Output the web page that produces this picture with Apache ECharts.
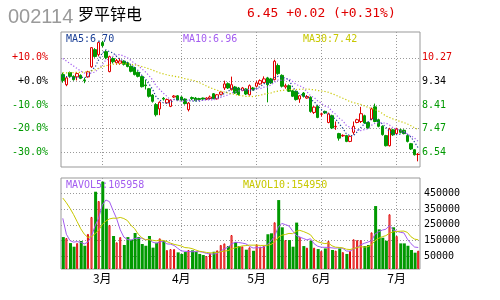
<!DOCTYPE html>
<html><head><meta charset="utf-8">
<script src="https://cdn.jsdelivr.net/npm/echarts@6/dist/echarts.min.js"></script>
<style>html,body{margin:0;padding:0;background:#fff}#c{width:500px;height:300px}</style>
</head><body><div id="c"></div><script>
const stockCode = '002114';
const stockName = '罗平锌电';
const monthNames = ['2月','3月','4月','5月','6月','7月'];
const monthDays = [11,22,21,18,21,7];
const opens = [9.61,9.21,9.69,9.54,9.52,9.58,9.40,9.52,9.92,10.60,
 10.40,10.88,10.52,9.73,10.25,10.08,10.06,10.14,10.08,9.94,
 9.89,9.70,9.53,9.20,9.05,8.80,8.42,8.25,8.67,8.49,
 8.35,8.72,8.77,8.72,8.64,8.22,8.70,8.68,8.66,8.68,
 8.63,8.66,8.85,8.65,8.83,9.08,9.25,9.01,9.12,9.08,
 8.98,9.04,8.81,9.08,9.15,9.24,9.30,9.48,9.44,9.41,
 9.97,9.58,9.12,9.17,8.97,8.95,8.64,8.88,8.68,8.71,
 8.11,8.35,8.04,8.15,7.71,7.98,7.54,7.27,7.18,7.19,
 6.96,7.32,7.71,7.75,7.98,7.71,7.85,8.33,7.82,7.56,
 7.19,6.79,7.42,7.27,7.42,7.40,7.19,6.87,6.63,6.44];
const closes = [9.38,9.48,9.54,9.41,9.65,9.46,9.37,9.72,10.68,10.33,
 10.88,10.76,10.29,10.32,10.12,10.17,10.15,10.02,9.93,9.74,
 9.61,9.54,9.13,9.17,8.75,8.55,8.02,8.51,8.64,8.62,
 8.60,8.76,8.60,8.60,8.46,8.48,8.66,8.58,8.62,8.64,
 8.68,8.72,8.66,8.81,8.92,9.24,9.08,9.21,8.88,8.82,
 9.08,8.84,9.17,9.01,9.28,9.37,9.44,9.21,9.28,10.14,
 9.65,9.15,9.17,8.95,8.75,8.62,8.77,8.75,8.74,8.15,
 8.32,7.91,8.05,8.09,8.05,7.49,7.56,7.09,7.20,6.96,
 7.16,7.56,7.82,8.06,7.69,7.49,8.25,7.75,7.56,7.23,
 6.79,7.45,7.22,7.45,7.32,7.27,6.96,6.66,6.43,6.45];
const lows = [9.29,9.15,9.50,9.37,9.38,9.43,9.27,9.49,9.88,10.28,
 10.33,10.70,10.22,9.70,10.05,10.00,10.00,9.97,9.90,9.70,
 9.58,9.50,9.10,9.02,8.70,8.50,7.95,8.00,8.58,8.45,
 8.32,8.68,8.56,8.57,8.42,8.15,8.60,8.55,8.58,8.60,
 8.60,8.62,8.63,8.62,8.80,9.00,9.04,8.98,8.85,8.78,
 8.95,8.80,8.78,8.98,9.10,9.20,9.27,8.51,9.24,9.38,
 9.60,9.10,9.05,8.92,8.72,8.58,8.49,8.70,8.65,8.10,
 8.05,7.88,7.95,8.05,7.68,7.45,7.42,6.99,7.14,6.93,
 6.93,7.23,7.68,7.69,7.66,7.46,7.80,7.72,7.52,7.19,
 6.76,6.76,7.18,7.22,7.28,7.24,6.92,6.62,6.40,6.17];
const highs = [9.69,9.53,9.73,9.58,9.71,9.62,9.49,9.76,10.70,10.66,
 10.92,10.95,10.58,10.36,10.30,10.23,10.26,10.18,10.12,9.98,
 9.92,9.74,9.56,9.40,9.08,8.84,8.48,8.55,8.72,8.66,
 8.63,8.80,8.80,8.75,8.67,8.52,8.74,8.72,8.69,8.70,
 8.71,8.78,8.88,8.84,8.95,9.37,9.30,9.53,9.16,9.12,
 9.12,9.07,9.22,9.12,9.35,9.42,9.54,9.52,9.48,10.20,
 10.05,9.62,9.25,9.22,9.00,8.98,8.80,8.92,8.80,8.75,
 8.36,8.40,8.10,8.18,8.10,8.02,7.75,7.30,7.24,7.22,
 7.20,7.75,7.86,8.33,8.02,7.74,8.30,8.46,7.86,7.60,
 7.22,7.50,7.46,7.50,7.46,7.44,7.22,6.90,6.66,6.50];
const volumes = [172000,166000,134000,111000,134000,147000,117000,192000,300000,460000,
 401000,524000,352000,249000,179000,139000,172000,122000,172000,155000,
 198000,172000,128000,117000,179000,105000,136000,164000,149000,90000,
 96000,96000,75000,65000,77000,90000,88000,79000,65000,58000,
 52000,69000,79000,88000,122000,132000,115000,185000,141000,115000,
 113000,92000,107000,85000,126000,111000,117000,190000,196000,266000,
 407000,234000,153000,153000,111000,264000,175000,115000,105000,149000,
 105000,96000,84000,100000,147000,90000,86000,100000,77000,65000,
 84000,158000,153000,153000,115000,122000,202000,369000,221000,168000,
 149000,317000,234000,179000,132000,132000,117000,90000,73000,86000];
const ma5 = [9.55,9.53,9.51,9.48,9.49,9.51,9.49,9.52,9.78,9.91,
 10.20,10.47,10.59,10.52,10.47,10.33,10.21,10.16,10.08,10.00,
 9.89,9.77,9.59,9.44,9.24,9.03,8.72,8.60,8.49,8.47,
 8.48,8.63,8.64,8.64,8.60,8.58,8.56,8.56,8.56,8.60,
 8.64,8.65,8.66,8.70,8.76,8.87,8.94,9.05,9.07,9.05,
 9.01,8.97,8.96,8.98,9.08,9.13,9.25,9.26,9.32,9.49,
 9.54,9.49,9.48,9.41,9.13,8.93,8.85,8.77,8.73,8.61,
 8.55,8.37,8.23,8.10,8.08,7.92,7.85,7.66,7.48,7.26,
 7.19,7.19,7.34,7.51,7.66,7.72,7.86,7.85,7.75,7.66,
 7.52,7.36,7.25,7.23,7.25,7.34,7.24,7.13,6.93,6.70];
const ma10 = [10.25,10.15,10.05,9.95,9.85,9.75,9.68,9.64,9.68,9.71,
 9.85,10.00,10.19,10.22,10.34,10.40,10.40,10.34,10.28,10.17,
 10.05,9.97,9.84,9.72,9.57,9.40,9.16,9.02,8.87,8.75,
 8.60,8.62,8.57,8.56,8.54,8.61,8.60,8.60,8.58,8.59,
 8.60,8.61,8.61,8.65,8.70,8.76,8.80,8.88,8.92,8.96,
 8.98,9.01,9.02,9.02,9.05,9.05,9.11,9.12,9.20,9.31,
 9.40,9.38,9.40,9.45,9.34,9.21,9.17,9.09,8.93,8.77,
 8.70,8.57,8.48,8.36,8.32,8.15,8.04,7.88,7.78,7.59,
 7.52,7.43,7.41,7.39,7.43,7.46,7.60,7.68,7.71,7.69,
 7.69,7.61,7.50,7.45,7.39,7.35,7.25,7.18,7.09,6.96];
const ma30 = [9.68,9.68,9.69,9.69,9.70,9.70,9.71,9.72,9.76,9.80,
 9.86,9.92,9.96,10.00,10.02,10.04,10.05,10.05,10.04,10.02,
 10.00,9.97,9.93,9.89,9.84,9.79,9.73,9.68,9.64,9.60,
 9.57,9.55,9.52,9.49,9.45,9.42,9.39,9.36,9.29,9.23,
 9.16,9.09,9.04,8.99,8.95,8.92,8.88,8.85,8.82,8.79,
 8.77,8.75,8.75,8.74,8.76,8.79,8.83,8.86,8.88,8.93,
 8.96,8.98,9.00,9.01,9.02,9.02,9.03,9.03,9.04,9.02,
 9.01,8.98,8.96,8.94,8.91,8.85,8.80,8.73,8.67,8.61,
 8.54,8.50,8.46,8.43,8.37,8.31,8.27,8.22,8.16,8.07,
 7.97,7.91,7.85,7.80,7.75,7.71,7.65,7.58,7.50,7.42];
const mavol5 = [291000,190000,150000,140000,143400,138400,128600,140200,178000,243200,
 294000,375400,407400,397200,341000,288600,218200,172200,156800,152000,
 163800,163800,165000,154000,158800,140200,133000,140200,146600,128800,
 127000,119000,101200,84400,81800,80600,79000,79800,79800,76000,
 68400,64600,64600,69200,82000,98000,107200,128400,139000,137600,
 133800,129200,113600,102400,104600,104200,109200,125800,148000,176000,
 235200,258600,251200,242600,211600,183000,171200,163600,154000,161600,
 129800,114000,107800,106800,106400,103400,101400,104600,100000,83600,
 82400,96800,107400,122600,132600,140200,149000,192200,205800,216400,
 221800,244800,217800,209400,202200,198800,158800,130000,108800,105958];
const mavol10 = [420000,390000,355000,315000,270000,225000,190000,170000,175000,193300,
 216200,252000,273800,287600,292100,291300,296800,289800,277000,246500,
 226200,191000,168600,155400,155400,152000,148400,152600,150300,143800,
 133600,126000,120700,115500,105300,103800,99000,90500,82100,78900,
 74500,71800,72200,74500,79000,83200,85900,96500,104100,109800,
 115900,118200,121000,120700,121100,119000,119200,119700,125200,140300,
 169700,183900,188500,195300,193800,209100,214900,207400,198300,186600,
 156400,142600,135700,130400,134000,116600,107700,106200,103400,95000,
 92900,99100,106000,111300,108100,111300,122900,149800,164200,174500,
 181000,196900,205000,207600,209300,210300,201800,173900,159100,154950];
const basePrice = 9.34;
const pctSteps = [10, 0, -10, -20, -30];
const volTicks = [50000, 150000, 250000, 350000, 450000];

const RED = '#e00000', GREEN = '#009900', BLUE = '#1a3f96', PURPLE = '#a35cf0', YELLOW = '#c8c800';
const MONO = '"DejaVu Sans Mono", monospace';
const N = closes.length;
const cats = [], monthStart = {}, monthIdx = [];
let k = 0;
monthNames.forEach((m, mi) => {
  for (let d = 0; d < monthDays[mi]; d++) {
    cats.push(m + (d + 1));
    if (d === 0 && mi > 0) { monthStart[k] = m; monthIdx.push(k); }
    k++;
  }
});
const priceTicks = pctSteps.map(p => +(basePrice * (1 + p / 100)).toFixed(4));
const candleData = opens.map((o, i) => [o, closes[i], lows[i], highs[i]]);
const isUp = closes.map((c, i) => c >= opens[i]);
const volUp = volumes.map((v, i) => isUp[i] ? v : null);
const volDown = volumes.map((v, i) => isUp[i] ? null : v);
const grid = { type: [1, 2], color: '#999999', width: 1 };
const colorFor = v => Math.abs(v - basePrice) < 0.01 ? '#000' : (v > basePrice ? RED : GREEN);
const prevClose = closes[N - 2], lastClose = closes[N - 1];
const chg = lastClose - prevClose;
const headText = lastClose.toFixed(2) + ' ' + (chg >= 0 ? '+' : '') + chg.toFixed(2) +
  ' (' + (chg >= 0 ? '+' : '') + (chg / prevClose * 100).toFixed(2) + '%)';
// value axes used only to place month gridlines on the candle centres
const monthGridAxis = (g) => ({
  type: 'value', gridIndex: g, min: -0.5, max: N - 0.5, position: 'top',
  axisLine: { show: false }, axisLabel: { show: false },
  axisTick: { show: false, customValues: monthIdx },
  splitLine: { show: true, lineStyle: grid }
});

const chart = echarts.init(document.getElementById('c'));
chart.setOption({
  animation: false,
  backgroundColor: '#fff',
  grid: [
    { left: 61, top: 32, width: 359, height: 135, show: true, borderColor: '#999', borderWidth: 1, backgroundColor: 'transparent' },
    { left: 61, top: 178, width: 359, height: 91, show: true, borderColor: '#999', borderWidth: 1, backgroundColor: 'transparent' }
  ],
  xAxis: [
    { type: 'category', data: cats, gridIndex: 0, boundaryGap: true,
      axisLine: { show: false }, axisTick: { show: false }, axisLabel: { show: false }, splitLine: { show: false } },
    { type: 'category', data: cats, gridIndex: 1, boundaryGap: true,
      axisLine: { show: false }, axisTick: { show: false }, splitLine: { show: false },
      axisLabel: { show: true, interval: (i) => monthStart[i] !== undefined,
        formatter: (v, i) => monthStart[i] || '', color: '#000', fontSize: 12,
        fontFamily: '"Noto Sans CJK SC"', margin: 3 } },
    monthGridAxis(0),
    monthGridAxis(1)
  ],
  yAxis: [
    { type: 'value', gridIndex: 0, position: 'left', min: 5.945, max: 11.30, scale: true,
      axisLine: { show: false }, axisTick: { show: false, customValues: priceTicks },
      axisLabel: { customValues: priceTicks, margin: 13, fontSize: 10, fontFamily: MONO,
        formatter: v => { const p = (v / basePrice - 1) * 100; return (p >= -0.05 ? '+' : '') + p.toFixed(1) + '%'; },
        color: v => colorFor(v) },
      splitLine: { show: true, lineStyle: grid } },
    { type: 'value', gridIndex: 0, position: 'right', min: 5.945, max: 11.30, scale: true,
      axisLine: { show: false }, axisTick: { show: false, customValues: priceTicks },
      axisLabel: { customValues: priceTicks, margin: 2, fontSize: 10, fontFamily: MONO,
        formatter: v => v.toFixed(2), color: v => colorFor(v) },
      splitLine: { show: false } },
    { type: 'value', gridIndex: 1, position: 'right', min: -30600, max: 547100, startValue: -30600,
      axisLine: { show: false }, axisTick: { show: false, customValues: volTicks },
      axisLabel: { customValues: volTicks, margin: 4, fontSize: 10, fontFamily: MONO, color: '#000',
        formatter: v => String(v) },
      splitLine: { show: true, lineStyle: grid } }
  ],
  series: [
    { type: 'candlestick', xAxisIndex: 0, yAxisIndex: 0, data: candleData, barWidth: 3, z: 3,
      itemStyle: { color: '#fff', color0: GREEN, borderColor: RED, borderColor0: GREEN, borderWidth: 1 } },
    { type: 'line', xAxisIndex: 0, yAxisIndex: 0, data: ma5, symbol: 'none', silent: true, z: 4,
      lineStyle: { color: BLUE, width: 1.2, type: [1.2, 2] } },
    { type: 'line', xAxisIndex: 0, yAxisIndex: 0, data: ma10, symbol: 'none', silent: true, z: 4,
      lineStyle: { color: PURPLE, width: 1.2, type: [1.2, 2] } },
    { type: 'line', xAxisIndex: 0, yAxisIndex: 0, data: ma30, symbol: 'none', silent: true, z: 4,
      lineStyle: { color: YELLOW, width: 1.2, type: [1.2, 2] } },
    { type: 'bar', xAxisIndex: 1, yAxisIndex: 2, data: volDown, barWidth: 3, barGap: '-100%', z: 3,
      itemStyle: { color: GREEN, borderWidth: 0 } },
    { type: 'bar', xAxisIndex: 1, yAxisIndex: 2, data: volUp, barWidth: 2, barGap: '-100%', z: 3,
      itemStyle: { color: '#fff', borderColor: RED, borderWidth: 1 } },
    { type: 'line', xAxisIndex: 1, yAxisIndex: 2, data: mavol5, symbol: 'none', silent: true, z: 4,
      lineStyle: { color: PURPLE, width: 1 } },
    { type: 'line', xAxisIndex: 1, yAxisIndex: 2, data: mavol10, symbol: 'none', silent: true, z: 4,
      lineStyle: { color: YELLOW, width: 1 } }
  ],
  graphic: [
    { type: 'text', left: 8, top: 7, style: { text: stockCode, fill: '#9a9a9a', font: '20px "Liberation Sans"' } },
    { type: 'text', left: 78, top: 6, style: { text: stockName, fill: '#000', font: '16px "Noto Sans CJK SC"' } },
    { type: 'text', left: 247, top: 7, style: { text: headText, fill: RED, font: '13px ' + MONO } },
    { type: 'text', left: 66, top: 34, z: 10, style: { text: 'MA5:' + ma5[N - 1].toFixed(2), fill: BLUE, font: '10px ' + MONO } },
    { type: 'text', left: 183, top: 34, z: 10, style: { text: 'MA10:' + ma10[N - 1].toFixed(2), fill: PURPLE, font: '10px ' + MONO } },
    { type: 'text', left: 303, top: 34, z: 10, style: { text: 'MA30:' + ma30[N - 1].toFixed(2), fill: YELLOW, font: '10px ' + MONO } },
    { type: 'text', left: 66, top: 180, z: 10, style: { text: 'MAVOL5:' + mavol5[N - 1], fill: PURPLE, font: '10px ' + MONO } },
    { type: 'text', left: 243, top: 180, z: 10, style: { text: 'MAVOL10:' + mavol10[N - 1], fill: YELLOW, font: '10px ' + MONO } }
  ]
});
</script></body></html>
